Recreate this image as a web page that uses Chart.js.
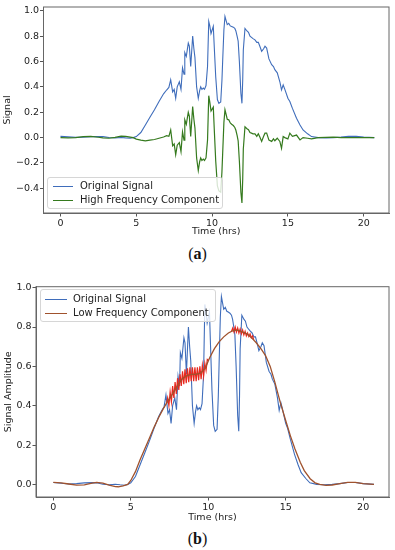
<!DOCTYPE html>
<html>
<head>
<meta charset="utf-8">
<script src="https://cdn.jsdelivr.net/npm/chart.js@4.4.0/dist/chart.umd.min.js"></script>
<style>
body { margin:0; background:#fff; width:395px; height:550px; position:relative; overflow:hidden; font-family:"DejaVu Sans"; }
.plot { position:absolute; left:0; width:395px; }
.legend { position:absolute; border:1px solid #d6d6d6; border-radius:3px; background:rgba(255,255,255,0.8); font:10px "DejaVu Sans"; color:#222; box-sizing:border-box; }
.row { position:absolute; left:0; white-space:nowrap; line-height:12px; }
.sw { position:absolute; height:0; border-top:1.5px solid; }
.cap { position:absolute; width:395px; left:0; text-align:center; font:16px "Liberation Serif", serif; color:#111; }
</style>
</head>
<body>
<div class="plot" style="top:0;height:245px"><canvas id="chartA"></canvas></div>
<div class="plot" style="top:280px;height:248px"><canvas id="chartB"></canvas></div>

<div class="legend" style="left:47px;top:177px;width:176px;height:32px">
  <span class="sw" style="left:5px;top:8px;width:20px;border-color:#3f6dbb"></span><span class="row" style="left:32px;top:2px">Original Signal</span>
  <span class="sw" style="left:5px;top:22px;width:20px;border-color:#357a1e"></span><span class="row" style="left:32px;top:16px">High Frequency Component</span>
</div>
<div class="legend" style="left:40px;top:289px;width:176px;height:33px">
  <span class="sw" style="left:4px;top:9px;width:22px;border-color:#3f6dbb"></span><span class="row" style="left:32px;top:3px">Original Signal</span>
  <span class="sw" style="left:4px;top:23px;width:22px;border-color:#a0522d"></span><span class="row" style="left:32px;top:17px">Low Frequency Component</span>
</div>
<div class="cap" style="top:245px">(<b>a</b>)</div>
<div class="cap" style="top:530px">(<b>b</b>)</div>

<script>
// time axis (hrs) for the measured signal
var hrs = [0, 0.5, 1.0, 1.5, 2.0, 2.5, 2.8, 3.2, 3.6, 4.0,
  4.3, 4.6, 4.8, 5.0, 5.3, 5.6, 5.9, 6.2, 6.5, 6.8,
  7.0, 7.15, 7.27, 7.4, 7.5, 7.6, 7.7, 7.84, 7.95, 8.05,
  8.15, 8.2, 8.3, 8.43, 8.5, 8.59, 8.72, 8.8, 8.87, 8.98,
  9.09, 9.18, 9.25, 9.33, 9.42, 9.5, 9.6, 9.7, 9.78, 9.85,
  9.93, 10.08, 10.15, 10.24, 10.35, 10.45, 10.57, 10.65, 10.7, 10.78,
  10.85, 10.93, 11.0, 11.1, 11.2, 11.29, 11.4, 11.5, 11.57, 11.65,
  11.72, 11.8, 11.9, 11.97, 12.02, 12.06, 12.17, 12.3, 12.4, 12.5,
  12.6, 12.7, 12.83, 12.95, 13.05, 13.15, 13.27, 13.4, 13.49, 13.6,
  13.75, 13.93, 14.05, 14.14, 14.3, 14.47, 14.58, 14.69, 14.8, 15.0,
  15.13, 15.3, 15.57, 15.8, 16.0, 16.3, 16.56, 17.0, 17.5, 18.0,
  18.5, 19.0, 19.5, 20.0, 20.7];

var original = [0.010, 0.006, 0.002, 0.004, 0.008, 0.009, 0.008, 0.001, -0.002, 0.001,
  -0.002, -0.004, 0.000, 0.008, 0.040, 0.100, 0.160, 0.220, 0.285, 0.345,
  0.375, 0.395, 0.455, 0.36, 0.38, 0.31, 0.40, 0.44, 0.38, 0.55,
  0.50, 0.67, 0.64, 0.745, 0.72, 0.56, 0.80, 0.70, 0.63, 0.40,
  0.31, 0.37, 0.40, 0.38, 0.39, 0.38, 0.41, 0.56, 0.915, 0.88,
  0.82, 0.876, 0.70, 0.48, 0.30, 0.27, 0.28, 0.45, 0.61, 0.85,
  0.955, 0.92, 0.89, 0.90, 0.88, 0.876, 0.87, 0.86, 0.84, 0.80,
  0.76, 0.60, 0.35, 0.27, 0.45, 0.69, 0.86, 0.84, 0.83, 0.80,
  0.79, 0.78, 0.77, 0.75, 0.75, 0.72, 0.68, 0.70, 0.72, 0.705,
  0.62, 0.574, 0.56, 0.535, 0.51, 0.44, 0.376, 0.415, 0.38, 0.31,
  0.284, 0.23, 0.153, 0.10, 0.06, 0.03, 0.008, 0.0, -0.002, 0.0,
  0.004, 0.01, 0.01, 0.004, 0.0];

var highFreq = [0.000, -0.002, 0.000, 0.008, 0.010, 0.003, -0.002, -0.005, 0.002, 0.012,
  0.010, 0.004, 0.000, -0.012, -0.020, -0.025, -0.020, -0.015, -0.005, 0.005,
  0.015, 0.010, 0.060, -0.065, -0.050, -0.135, -0.060, -0.040, -0.110, 0.045,
  -0.020, 0.140, 0.105, 0.200, 0.170, 0.010, 0.245, 0.145, 0.075, -0.160,
  -0.260, -0.190, -0.160, -0.180, -0.170, -0.180, -0.160, -0.020, 0.330, 0.280,
  0.210, 0.240, 0.050, -0.185, -0.380, -0.420, -0.430, -0.270, -0.120, 0.120,
  0.220, 0.180, 0.145, 0.140, 0.115, 0.105, 0.095, 0.080, 0.058, 0.017,
  -0.025, -0.185, -0.430, -0.515, -0.330, -0.090, 0.085, 0.070, 0.062, 0.040,
  0.035, 0.030, 0.030, 0.010, 0.030, 0.005, -0.030, 0.010, 0.035, 0.035,
  -0.020, -0.030, -0.010, -0.025, -0.005, -0.030, -0.084, 0.008, 0.000, -0.010,
  0.035, 0.010, 0.020, -0.018, 0.000, -0.005, -0.010, 0.000, 0.002, 0.004,
  0.000, 0.000, 0.000, 0.000, 0.000];

// smooth low frequency component
var lowHrs = [0, 0.5, 1.0, 1.5, 2.0, 2.5, 2.8, 3.2, 3.6, 4.0,
  4.2, 4.5, 4.8, 5.0, 5.3, 5.6, 5.9, 6.2, 6.5, 6.8,
  7.1, 7.4, 7.7, 8.0, 8.3, 8.6, 8.9, 9.2, 9.5, 9.8,
  10.1, 10.4, 10.7, 11.0, 11.3, 11.6, 11.9, 12.2, 12.5, 12.8,
  13.1, 13.4, 13.7, 14.0, 14.3, 14.65, 15.0, 15.3, 15.6, 15.94,
  16.2, 16.58, 16.9, 17.2, 17.6, 18.0, 18.5, 19.0, 19.5, 20.0, 20.7];
var lowFreq = [0.010, 0.008, 0.002, -0.004, -0.002, 0.006, 0.010, 0.006, -0.004, -0.011,
  -0.012, -0.008, 0.000, 0.020, 0.065, 0.125, 0.180, 0.235, 0.290, 0.340,
  0.385, 0.425, 0.460, 0.500, 0.535, 0.552, 0.559, 0.560, 0.565, 0.590,
  0.645, 0.690, 0.725, 0.750, 0.770, 0.782, 0.784, 0.775, 0.765, 0.745,
  0.720, 0.690, 0.655, 0.600, 0.520, 0.417, 0.325, 0.248, 0.180, 0.113,
  0.070, 0.029, 0.008, 0.000, -0.005, -0.003, 0.004, 0.010, 0.010, 0.004, 0.000];

// jagged (red) parts of the low frequency component
var jagHrs = [7.30, 7.38, 7.46, 7.54, 7.62, 7.70, 7.78, 7.86, 7.94, 8.02,
  8.10, 8.18, 8.26, 8.34, 8.42, 8.50, 8.58, 8.66, 8.74, 8.82,
  8.90, 8.98, 9.06, 9.14, 9.22, 9.30, 9.38, 9.46, 9.54, 9.62,
  9.70, 9.78, 9.86, 9.94, 10.02, 10.5,
  11.50, 11.58, 11.66, 11.74, 11.82, 11.90, 11.98, 12.06, 12.14, 12.22,
  12.30, 12.38, 12.46, 12.54, 12.62, 12.70, 12.78, 12.86, 12.94];
var jagVals = [0.41, 0.44, 0.40, 0.47, 0.42, 0.50, 0.44, 0.52, 0.46, 0.54,
  0.48, 0.56, 0.50, 0.575, 0.51, 0.585, 0.515, 0.59, 0.52, 0.595,
  0.525, 0.595, 0.525, 0.595, 0.525, 0.595, 0.53, 0.60, 0.535, 0.605,
  0.55, 0.615, 0.58, 0.635, 0.63, null,
  0.778, 0.795, 0.775, 0.80, 0.775, 0.795, 0.77, 0.79, 0.765, 0.785,
  0.76, 0.778, 0.755, 0.77, 0.752, 0.765, 0.745, 0.755, 0.735];

var xTicks = [0, 5, 10, 15, 20];
var yTicksA = [-0.4, -0.2, 0.0, 0.2, 0.4, 0.6, 0.8, 1.0];
var yTicksB = [0.0, 0.2, 0.4, 0.6, 0.8, 1.0];

function pts(xs, ys) {
  return xs.map(function (x, i) { return { x: x, y: ys[i] }; });
}

var frame = {
  id: 'frame',
  afterDatasetsDraw: function (chart) {
    var a = chart.chartArea, ctx = chart.ctx;
    ctx.save();
    ctx.strokeStyle = '#666';
    ctx.lineWidth = 1;
    ctx.strokeRect(a.left, a.top, a.right - a.left, a.bottom - a.top);
    ctx.restore();
  }
};

function fmt(v) {
  return (v < 0 ? '\u2212' : '') + Math.abs(v).toFixed(1);
}

function opts(yMin, yMax, yTicks, yTitle, yW, xH, padTop, yTitlePad, xTitlePad) {
  var font = { family: 'DejaVu Sans', size: 9.5 };
  return {
    responsive: true,
    maintainAspectRatio: false,
    animation: false,
    layout: { padding: { top: padTop, right: 6, left: 0, bottom: 0 } },
    plugins: { legend: { display: false }, tooltip: { enabled: false } },
    elements: { point: { radius: 0 }, line: { tension: 0 } },
    scales: {
      x: {
        type: 'linear', min: -1.12, max: 21.67,
        afterBuildTicks: function (s) { s.ticks = xTicks.map(function (v) { return { value: v }; }); },
        afterFit: function (s) { s.height = xH; },
        ticks: { font: font, color: '#222', padding: 1, maxRotation: 0 },
        grid: { drawOnChartArea: false, drawTicks: true, tickLength: 3.5, color: '#555' },
        border: { color: '#666' },
        title: { display: true, text: 'Time (hrs)', font: font, color: '#222', padding: { top: 0, bottom: xTitlePad } }
      },
      y: {
        min: yMin, max: yMax,
        afterBuildTicks: function (s) { s.ticks = yTicks.map(function (v) { return { value: v }; }); },
        afterFit: function (s) { s.width = yW; },
        ticks: { font: font, color: '#222', padding: 1, callback: fmt },
        grid: { drawOnChartArea: false, drawTicks: true, tickLength: 3.5, color: '#555' },
        border: { color: '#666' },
        title: { display: true, text: yTitle, font: font, color: '#222', padding: { top: yTitlePad, bottom: 0 } }
      }
    }
  };
}

new Chart(document.getElementById('chartA'), {
  type: 'line',
  data: {
    datasets: [
      { label: 'Original Signal', data: pts(hrs, original), borderColor: '#3f6dbb', borderWidth: 1.1, order: 2 },
      { label: 'High Frequency Component', data: pts(hrs, highFreq), borderColor: '#357a1e', borderWidth: 1.2, order: 1 }
    ]
  },
  options: opts(-0.594, 1.029, yTicksA, 'Signal', 43.5, 32, 7, 2.3, 7.3),
  plugins: [frame]
});

new Chart(document.getElementById('chartB'), {
  type: 'line',
  data: {
    datasets: [
      { label: 'Original Signal', data: pts(hrs, original), borderColor: '#3f6dbb', borderWidth: 1.1, order: 3 },
      { label: 'jagged', data: pts(jagHrs, jagVals), borderColor: '#e8281e', borderWidth: 1.2, spanGaps: false, order: 2 },
      { label: 'Low Frequency Component', data: pts(lowHrs, lowFreq), borderColor: '#a0522d', borderWidth: 1.3, order: 1 }
    ]
  },
  options: opts(-0.064, 1.005, yTicksB, 'Signal Amplitude', 36, 31, 6, 3.3, 4.3),
  plugins: [frame]
});
</script>
</body>
</html>
